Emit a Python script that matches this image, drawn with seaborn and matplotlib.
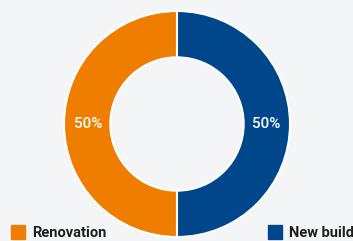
import matplotlib
matplotlib.use("Agg")
import matplotlib.pyplot as plt
import seaborn as sns
from matplotlib.lines import Line2D

sns.set_style("white")
plt.rcParams["font.family"] = ["Roboto", "DejaVu Sans"]

# ---- data ----
categories = ["Renovation", "New build"]
shares = [50, 50]
colors = ["#ef7d00", "#00468b"]
bg = "#f4f5f7"

fig = plt.figure(figsize=(3.53, 2.41), dpi=100)
fig.patch.set_facecolor(bg)

# donut centred at (177, 124) px, outer radius 113 px
ax = fig.add_axes([64 / 353, 4 / 241, 226 / 353, 226 / 241])
ax.set_facecolor(bg)

wedges, texts, autotexts = ax.pie(
    shares, colors=colors, startangle=90, counterclock=True,
    autopct="%d%%", pctdistance=0.79, radius=1.0,
    wedgeprops=dict(width=0.41, edgecolor="white", linewidth=1.5),
    textprops=dict(color="white", fontsize=11, weight="medium"),
)
ax.set_xlim(-1.0, 1.0)
ax.set_ylim(-1.0, 1.0)
ax.set_aspect("equal")
ax.axis("off")

# legend: one item in each bottom corner
for i, (loc, anchor) in enumerate([("lower left", (6 / 353, -0.022)), ("lower right", (1.02, -0.022))]):
    h = Line2D([], [], marker="s", linestyle="none", markersize=10,
               markerfacecolor=colors[i], markeredgecolor=colors[i])
    leg = fig.legend([h], [categories[i]], loc=loc, bbox_to_anchor=anchor,
                     frameon=False, handlelength=0.9, handletextpad=0.5,
                     borderaxespad=0.0, prop=dict(size=10.5, weight="semibold"))
    for t in leg.get_texts():
        t.set_color("#1e1e1e")

fig.savefig("out.png", dpi=100, facecolor=bg)
